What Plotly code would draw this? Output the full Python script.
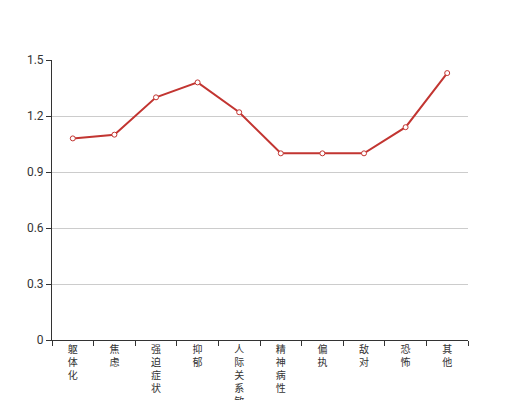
import plotly.graph_objects as go

categories = ["躯体化", "焦虑", "强迫症状", "抑郁", "人际关系敏感", "精神病性", "偏执", "敌对", "恐怖", "其他"]
values = [1.08, 1.10, 1.30, 1.38, 1.22, 1.00, 1.00, 1.00, 1.14, 1.43]
y_ticks = [0, 0.3, 0.6, 0.9, 1.2, 1.5]

tick_text = ["<br>".join(list(c)) for c in categories]

fig = go.Figure()
fig.add_trace(go.Scatter(
    x=categories, y=values, mode="lines+markers",
    line=dict(color="#c23531", width=2),
    marker=dict(symbol="circle", size=5, color="white",
                line=dict(color="#c23531", width=1)),
    hoverinfo="x+y", showlegend=False,
))

fig.update_layout(
    width=520, height=400,
    margin=dict(l=44, r=60, t=52, b=68),
    paper_bgcolor="white", plot_bgcolor="white",
    font=dict(family="Roboto, 'Noto Sans CJK SC', sans-serif", size=12, color="#333"),
    xaxis=dict(
        type="category", range=[-0.5, 9.5], automargin=False,
        tickmode="array", tickvals=categories, ticktext=tick_text,
        tickson="boundaries", ticks="outside", ticklen=5, tickcolor="#333",
        showline=True, linecolor="#333", linewidth=1,
        showgrid=False, zeroline=False, tickangle=0,
        tickfont=dict(size=10, color="#333"),
    ),
    yaxis=dict(
        range=[0, 1.5], automargin=False, tickmode="array", tickvals=y_ticks,
        ticktext=[str(v) for v in y_ticks],
        ticks="outside", ticklen=5, tickcolor="#333",
        showline=True, linecolor="#333", linewidth=1,
        showgrid=True, gridcolor="#ccc", zeroline=False,
        tickfont=dict(size=12, color="#333"),
    ),
)

fig.write_html("out.html")
